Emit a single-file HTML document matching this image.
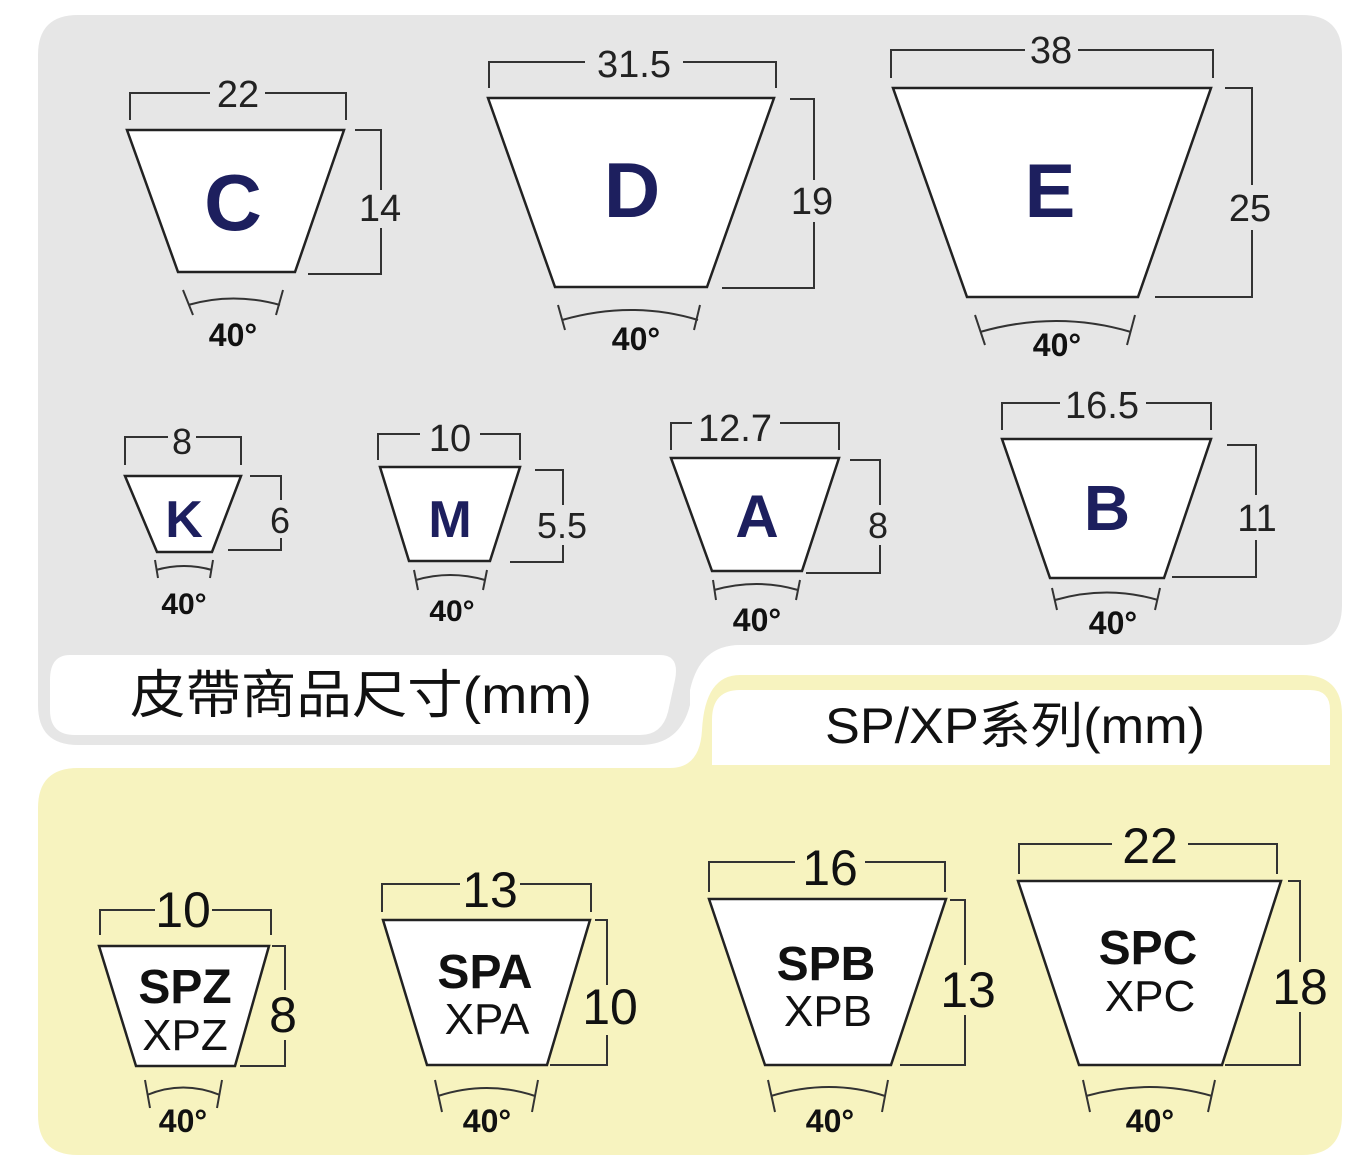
<!DOCTYPE html>
<html><head><meta charset="utf-8"><style>
html,body{margin:0;padding:0;background:#fff;}
svg{display:block;font-family:"Liberation Sans","Noto Sans CJK TC",sans-serif;}
</style></head><body>
<svg width="1372" height="1172" viewBox="0 0 1372 1172" xmlns="http://www.w3.org/2000/svg">
<path d="M78 15 H1302 Q1342 15 1342 55 V605 Q1342 645 1302 645 H740 Q700 645 690 690 V705 Q680 745 640 745 H78 Q38 745 38 705 V55 Q38 15 78 15 Z" fill="#e6e6e6"/>
<path d="M70 655 H660 Q680 655 675 680 L668 712 Q662 735 640 735 H75 Q50 735 50 710 V680 Q50 655 70 655 Z" fill="#fff"/>
<path d="M740 675 H1302 Q1342 675 1342 715 V1115 Q1342 1155 1302 1155 H78 Q38 1155 38 1115 V808 Q38 768 78 768 H670 Q700 768 702 730 Q705 675 740 675 Z" fill="#f7f3bf"/>
<path d="M740 690 H1310 Q1330 690 1330 710 V765 H712 V720 Q712 690 740 690 Z" fill="#fff"/>
<text x="130" y="713" font-size="52" textLength="462" lengthAdjust="spacingAndGlyphs" fill="#111">皮帶商品尺寸(mm)</text>
<text x="825" y="743" font-size="50" textLength="380" lengthAdjust="spacingAndGlyphs" fill="#111">SP/XP系列(mm)</text>

<g stroke="#333" stroke-width="2" fill="none">
<path d="M130 120 V93 H210 M265 93 H346 V120 M355 130 H381 V190 M381 228 V274 H308"/>
<path d="M183 290 L193 315 M283 290 L276 315 M188 305 Q233 292 280 305"/>
<path d="M489 88 V62 H585 M683 62 H776 V88 M790 99 H814 V180 M814 222 V288 H722"/>
<path d="M558 305 L565 330 M700 305 L694 330 M562 320 Q632 300 698 320"/>
<path d="M891 78 V50 H1025 M1078 50 H1213 V78 M1225 88 H1252 V185 M1252 230 V297 H1155"/>
<path d="M975 315 L985 345 M1135 315 L1127 345 M980 332 Q1057 310 1131 332"/>
<path d="M125 465 V437 H168 M196 437 H241 V465 M250 476 H281 V500 M281 538 V550 H228"/>
<path d="M155 560 L158 578 M213 560 L210 578 M156 570 Q184 562 212 570"/>
<path d="M378 460 V434 H420 M480 434 H520 V460 M535 470 H563 V505 M563 545 V562 H510"/>
<path d="M414 570 L418 590 M487 570 L483 590 M416 580 Q450 570 485 580"/>
<path d="M671 450 V423 H692 M780 423 H839 V450 M850 460 H880 V505 M880 545 V573 H806"/>
<path d="M713 580 L716 600 M800 580 L796 600 M714 590 Q757 578 798 590"/>
<path d="M1002 430 V403 H1060 M1146 403 H1211 V430 M1227 445 H1256 V495 M1256 540 V577 H1172"/>
<path d="M1052 588 L1057 610 M1160 588 L1155 610 M1055 600 Q1107 585 1158 600"/>
<path d="M100 935 V910 H155 M212 910 H271 V935 M272 946 H285 V990 M285 1040 V1066 H240"/>
<path d="M145 1080 L150 1108 M222 1080 L217 1108 M147 1095 Q183 1080 220 1095"/>
<path d="M382 912 V884 H460 M520 884 H591 V912 M595 920 H607 V985 M607 1035 V1065 H550"/>
<path d="M435 1080 L442 1112 M538 1080 L532 1112 M438 1096 Q487 1080 535 1096"/>
<path d="M709 892 V862 H795 M865 862 H945 V892 M950 900 H965 V965 M965 1015 V1065 H900"/>
<path d="M768 1080 L775 1112 M888 1080 L882 1112 M771 1096 Q830 1078 885 1096"/>
<path d="M1019 874 V844 H1112 M1188 844 H1277 V874 M1288 881 H1300 V962 M1300 1012 V1065 H1225"/>
<path d="M1083 1080 L1090 1112 M1215 1080 L1208 1112 M1086 1096 Q1150 1078 1212 1096"/>
</g>

<g fill="#fff" stroke="#222" stroke-width="2.5">
<polygon points="127,130 344,130 295,272 178,272"/>
<polygon points="488,98 774,98 707,287 555,287"/>
<polygon points="893,88 1211,88 1138,297 967,297"/>
<polygon points="125,476 241,476 212,552 157,552"/>
<polygon points="380,467 520,467 490,561 409,561"/>
<polygon points="671,458 839,458 802,571 712,571"/>
<polygon points="1002,439 1211,439 1164,578 1050,578"/>
<polygon points="99,946 269,946 235,1066 136,1066"/>
<polygon points="383,920 590,920 547,1065 427,1065"/>
<polygon points="709,899 946,899 891,1065 765,1065"/>
<polygon points="1018,881 1281,881 1222,1065 1079,1065"/>
</g>

<g fill="#1d1f5e" font-weight="bold" text-anchor="middle">
<text x="233" y="230" font-size="80">C</text>
<text x="632" y="217" font-size="78">D</text>
<text x="1050" y="217" font-size="76">E</text>
<text x="184" y="537" font-size="52">K</text>
<text x="450" y="537" font-size="52">M</text>
<text x="757" y="537" font-size="60">A</text>
<text x="1107" y="530" font-size="64">B</text>
</g>

<g fill="#222" text-anchor="middle" font-size="38">
<text x="238" y="107">22</text>
<text x="634" y="77">31.5</text>
<text x="1051" y="63">38</text>
<text x="380" y="221">14</text>
<text x="812" y="214">19</text>
<text x="1250" y="221">25</text>
<text x="182" y="454" font-size="36">8</text>
<text x="450" y="451">10</text>
<text x="735" y="441">12.7</text>
<text x="1102" y="418">16.5</text>
<text x="280" y="533" font-size="36">6</text>
<text x="562" y="538" font-size="36">5.5</text>
<text x="878" y="538" font-size="36">8</text>
<text x="1257" y="531">11</text>
</g>

<g fill="#111" font-weight="bold" text-anchor="middle">
<text x="233" y="346" font-size="32">40°</text>
<text x="636" y="350" font-size="32">40°</text>
<text x="1057" y="356" font-size="32">40°</text>
<text x="184" y="614" font-size="30">40°</text>
<text x="452" y="621" font-size="30">40°</text>
<text x="757" y="631" font-size="32">40°</text>
<text x="1113" y="634" font-size="32">40°</text>
<text x="183" y="1132" font-size="32">40°</text>
<text x="487" y="1132" font-size="32">40°</text>
<text x="830" y="1132" font-size="32">40°</text>
<text x="1150" y="1132" font-size="32">40°</text>
</g>

<g fill="#111" text-anchor="middle" font-size="50">
<text x="183" y="927">10</text>
<text x="490" y="907">13</text>
<text x="830" y="885">16</text>
<text x="1150" y="863">22</text>
<text x="283" y="1032">8</text>
<text x="610" y="1024">10</text>
<text x="968" y="1007">13</text>
<text x="1300" y="1004">18</text>
</g>
<g fill="#111" text-anchor="middle">
<text x="185" y="1003" font-size="48" font-weight="bold">SPZ</text>
<text x="185" y="1050" font-size="44">XPZ</text>
<text x="485" y="988" font-size="48" font-weight="bold">SPA</text>
<text x="487" y="1034" font-size="44">XPA</text>
<text x="826" y="980" font-size="48" font-weight="bold">SPB</text>
<text x="828" y="1026" font-size="44">XPB</text>
<text x="1148" y="964" font-size="48" font-weight="bold">SPC</text>
<text x="1150" y="1011" font-size="44">XPC</text>
</g>
</svg>
</body></html>
